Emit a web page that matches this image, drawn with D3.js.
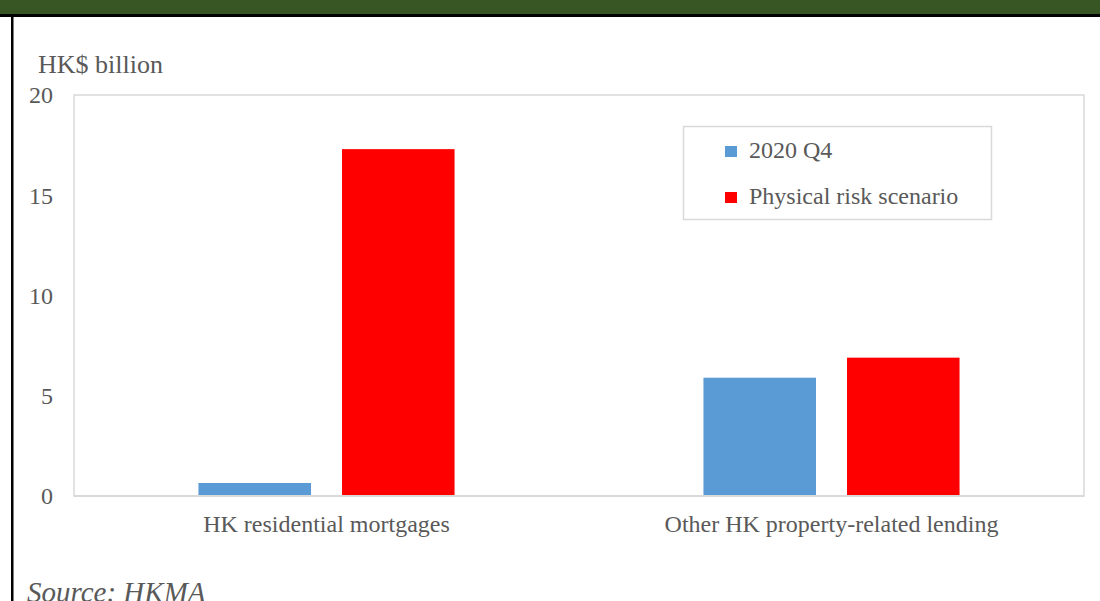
<!DOCTYPE html>
<html>
<head>
<meta charset="utf-8">
<script src="https://cdn.jsdelivr.net/npm/d3@7"></script>
<style>
  html, body { margin: 0; padding: 0; background: #fff; }
  svg { display: block; }
</style>
</head>
<body>
<svg id="chart" width="1100" height="601"></svg>
<script>
// Loan categories and the two series compared for each
const categories = ["HK residential mortgages", "Other HK property-related lending"];
const seriesNames = ["2020 Q4", "Physical risk scenario"];
const seriesColors = ["#5b9bd5", "#ff0000"];
const q4Values = [0.65, 5.9];
const physicalRiskValues = [17.3, 6.9];
const yTicks = [0, 5, 10, 15, 20];

const svg = d3.select("#chart");
const W = 1100, H = 601;
const textColor = "#595959";
const font = "'Liberation Serif', 'Times New Roman', serif";

// Header band and frame
svg.append("rect").attr("x", 0).attr("y", 0).attr("width", W).attr("height", 15).attr("fill", "#375623");
svg.append("rect").attr("x", 0).attr("y", 14).attr("width", W).attr("height", 3).attr("fill", "#000");
svg.append("rect").attr("x", 11).attr("y", 14).attr("width", 2.5).attr("height", H - 14).attr("fill", "#000");

const plot = { left: 74, right: 1084, top: 95, bottom: 496 };

const y = d3.scaleLinear().domain([0, 20]).range([plot.bottom, plot.top]);
const x0 = d3.scaleBand().domain(categories).range([plot.left, plot.right]).padding(0);
const x1 = d3.scaleBand().domain(seriesNames).range([0, x0.bandwidth()])
  .paddingInner(0.216).paddingOuter(0.867);

// Plot area border
svg.append("rect")
  .attr("x", plot.left).attr("y", plot.top)
  .attr("width", plot.right - plot.left).attr("height", plot.bottom - plot.top)
  .attr("fill", "none").attr("stroke", "#d9d9d9").attr("stroke-width", 1.5);

// Bars
const rows = categories.map((c, i) => ({ category: c, values: [q4Values[i], physicalRiskValues[i]] }));
const groups = svg.append("g").selectAll("g").data(rows).join("g")
  .attr("transform", d => `translate(${x0(d.category)},0)`);
groups.selectAll("rect")
  .data(d => d.values.map((v, j) => ({ name: seriesNames[j], value: v, color: seriesColors[j] })))
  .join("rect")
  .attr("x", d => x1(d.name))
  .attr("width", x1.bandwidth())
  .attr("y", d => y(d.value))
  .attr("height", d => y(0) - y(d.value))
  .attr("fill", d => d.color);

// Baseline
svg.append("line")
  .attr("x1", plot.left).attr("x2", plot.right)
  .attr("y1", plot.bottom).attr("y2", plot.bottom)
  .attr("stroke", "#d9d9d9").attr("stroke-width", 2);

// Y axis labels
const yAxis = d3.axisLeft(y).tickValues(yTicks).tickSize(0).tickPadding(0).tickFormat(d3.format("d"));
const yG = svg.append("g").attr("transform", `translate(53,0)`).call(yAxis);
yG.select(".domain").remove();
yG.selectAll("text")
  .attr("font-family", font).attr("font-size", 24).attr("fill", textColor)
  .attr("text-anchor", "end").attr("dy", "0.33em");

// X axis labels
const xAxis = d3.axisBottom(x0).tickSize(0).tickPadding(0);
const xG = svg.append("g").attr("transform", `translate(0,${plot.bottom + 36})`).call(xAxis);
xG.select(".domain").remove();
xG.selectAll("text")
  .attr("font-family", font).attr("font-size", 24).attr("fill", textColor)
  .attr("dy", 0).attr("y", 0);

// Unit label
svg.append("text").attr("x", 38).attr("y", 73)
  .attr("font-family", font).attr("font-size", 26).attr("fill", textColor)
  .text("HK$ billion");

// Legend
const legend = svg.append("g");
legend.append("rect").attr("x", 683.5).attr("y", 126.5).attr("width", 308).attr("height", 93)
  .attr("fill", "#fff").attr("stroke", "#d9d9d9").attr("stroke-width", 1.5);
const legendItems = legend.selectAll("g.item").data(seriesNames).join("g").attr("class", "item")
  .attr("transform", (d, i) => `translate(725,${151 + i * 46})`);
legendItems.append("rect").attr("x", 0).attr("y", -5).attr("width", 12).attr("height", 11)
  .attr("fill", (d, i) => seriesColors[i]);
legendItems.append("text").attr("x", 24).attr("y", 7)
  .attr("font-family", font).attr("font-size", 24).attr("fill", textColor)
  .text(d => d);

// Source note
svg.append("text").attr("x", 27).attr("y", 602)
  .attr("font-family", font).attr("font-size", 29).attr("font-style", "italic").attr("fill", textColor)
  .text("Source: HKMA");
</script>
</body>
</html>
